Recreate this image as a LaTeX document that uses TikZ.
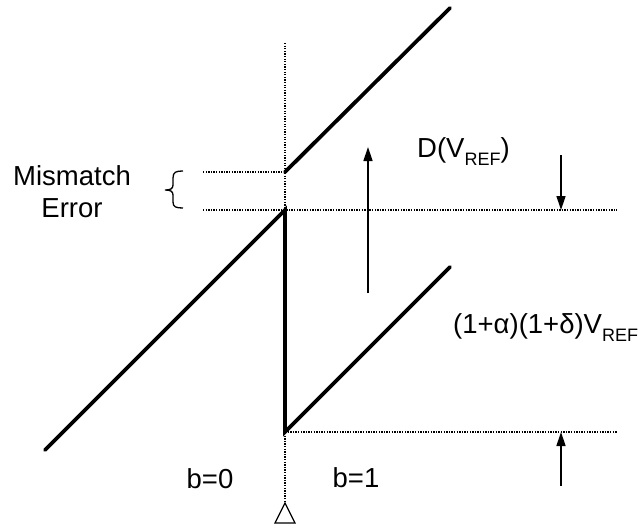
\documentclass[tikz,border=0pt]{standalone}
\usepackage{fontspec}
\setmainfont{Liberation Sans}
\usetikzlibrary{arrows.meta}
\newcommand{\subref}{\raisebox{-0.32em}{\fontsize{18}{18}\selectfont REF}}

\begin{document}
\begin{tikzpicture}[
    x=1pt, y=-1pt,
    every node/.style={font=\fontsize{27.5}{33}\selectfont, inner sep=0pt},
    thickline/.style={line width=3.8pt, line cap=round},
    dotline/.style={line width=1.4pt, dash pattern=on 1.3pt off 1.3pt},
    arrow/.style={-{Triangle[length=14pt, width=9pt]}, line width=1.4pt}
]
\useasboundingbox (0,0) rectangle (640,527);

% Transfer curve corners
\coordinate (lowstart) at (45,450);
\coordinate (jumptop) at (285,210);
\coordinate (jumpbot) at (285,432);
\coordinate (lowend) at (450,267);
\coordinate (upstart) at (285,172);
\coordinate (upend) at (450,8);

% Dotted guides
\coordinate (vtop) at (285,43);
\coordinate (triapex) at (285,503);
\coordinate (mleft) at (203,172);
\coordinate (eleft) at (203,210);
\coordinate (eright) at (617,210);
\coordinate (bright) at (617,432);
\draw[line width=1.3pt, line join=miter] (triapex) -- ++(-10,20) -- ++(20,0) -- cycle;
\draw[dotline] (vtop) -- (triapex);
\draw[dotline] (mleft) -- (upstart);
\draw[dotline] (eleft) -- (eright);
\draw[dotline] (jumpbot) -- (bright);

% Curve
\draw[thickline] (lowstart) -- (jumptop) -- (jumpbot) -- (lowend);
\draw[thickline] (upstart) -- (upend);

% Arrows
\coordinate (shiftbot) at (368,293);
\coordinate (shifttop) at (368,147);
\draw[arrow] (shiftbot) -- (shifttop);
\coordinate (dtop) at (561,155);
\coordinate (dtip) at (561,210);
\draw[arrow] (dtop) -- (dtip);
\coordinate (ubot) at (561,486);
\coordinate (utip) at (561,432);
\draw[arrow] (ubot) -- (utip);

% Brace
\draw[line width=1.3pt] (183,171) .. controls (176,171) and (173,172) .. (173,178)
    -- (173,185) .. controls (173,189) and (170,190) .. (165,190)
    .. controls (170,190) and (173,191) .. (173,195) -- (173,202)
    .. controls (173,207) and (176,208) .. (183,208);

% Labels
\node[anchor=base] (mis) at (72,185) {Mismatch};
\node[anchor=base] (err) at (72,217) {Error};
\node[anchor=base west] (dvref) at (417,157) {D(V\subref)};
\node[anchor=base west] (gain) at (453,333) {(1+α)(1+δ)V\subref};
\node[anchor=base] (bzero) at (210,488) {b=0};
\node[anchor=base] (bone) at (356,487) {b=1};

\end{tikzpicture}
\end{document}
